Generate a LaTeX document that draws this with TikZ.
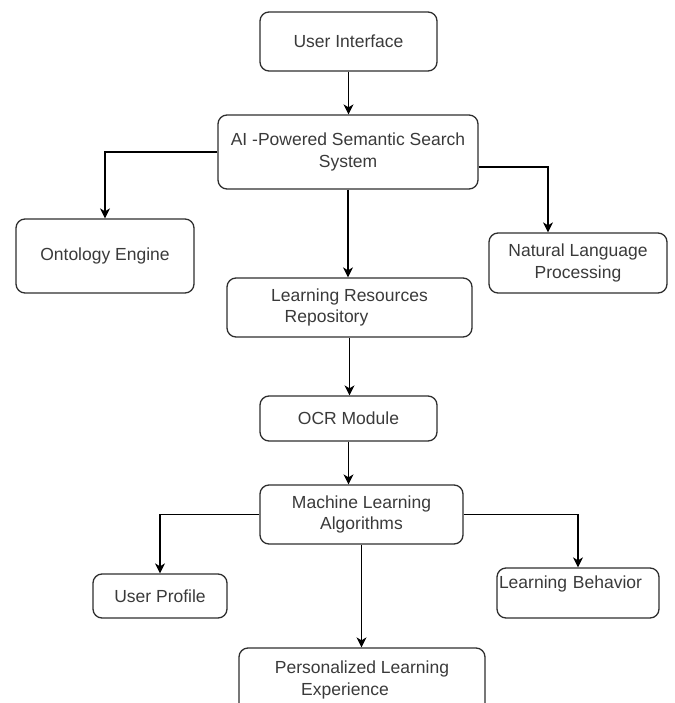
\documentclass[tikz,border=0pt]{standalone}
\usepackage{fontspec}
\setmainfont{Liberation Sans}
\usetikzlibrary{arrows.meta}
\definecolor{edgegray}{HTML}{2E2E2E}
\definecolor{textgray}{HTML}{3A3A3A}
\tikzset{
  box/.style={draw=edgegray, line width=1.3pt, rounded corners=9pt, align=center,
    text=textgray, inner sep=0pt, font=\fontsize{17.5}{21.5}\selectfont},
  flow/.style={draw=black, line width=1.2pt, -{Stealth[length=10pt,width=10pt,inset=3pt]}}
}
\begin{document}
\begin{tikzpicture}[x=1pt, y=-1pt]
\useasboundingbox (0,0) rectangle (674,703);
\clip (0,0) rectangle (674,703);
\node[box, minimum width=177pt, minimum height=59pt] (ui) at (348.5,41.5) {User Interface};
\node[box, minimum width=260pt, minimum height=74pt] (ai) at (348,152) {AI -Powered Semantic Search\\System};
\node[box, minimum width=178pt, minimum height=74pt] (onto) at (105,256) {Ontology Engine};
\node[box, minimum width=178pt, minimum height=60pt] (nlp) at (578,263) {Natural Language\\Processing};
\node[box, minimum width=245pt, minimum height=59pt] (lrr) at (349.5,307.5) {Learning Resources\\Repository\hspace*{46pt}};
\node[box, minimum width=177pt, minimum height=45pt] (ocr) at (348.5,418.5) {OCR Module};
\node[box, minimum width=203pt, minimum height=59pt] (ml) at (361.5,514.5) {Machine Learning\\Algorithms};
\node[box, minimum width=134pt, minimum height=44pt] (up) at (160,596) {User Profile};
\node[box, minimum width=162pt, minimum height=50pt, align=left, text width=158pt] (lb) at (578,593) {Learning Behavior\\~};
\node[box, minimum width=246pt, minimum height=64pt] (ple) at (362,680) {Personalized Learning\\Experience\hspace*{34pt}};
\foreach \a/\b in {ui/ai, ai/lrr, lrr/ocr, ocr/ml, ml/ple}
  \draw[flow] (\a.south) -- (\a.south |- \b.north);
\draw[flow] (ai.west) -| (onto.north);
\draw[flow] ([yshift=-15pt]ai.east) -| ([xshift=-30pt]nlp.north);
\draw[flow] (ml.west) -| (up.north);
\draw[flow] (ml.east) -| (lb.north);
\end{tikzpicture}
\end{document}
